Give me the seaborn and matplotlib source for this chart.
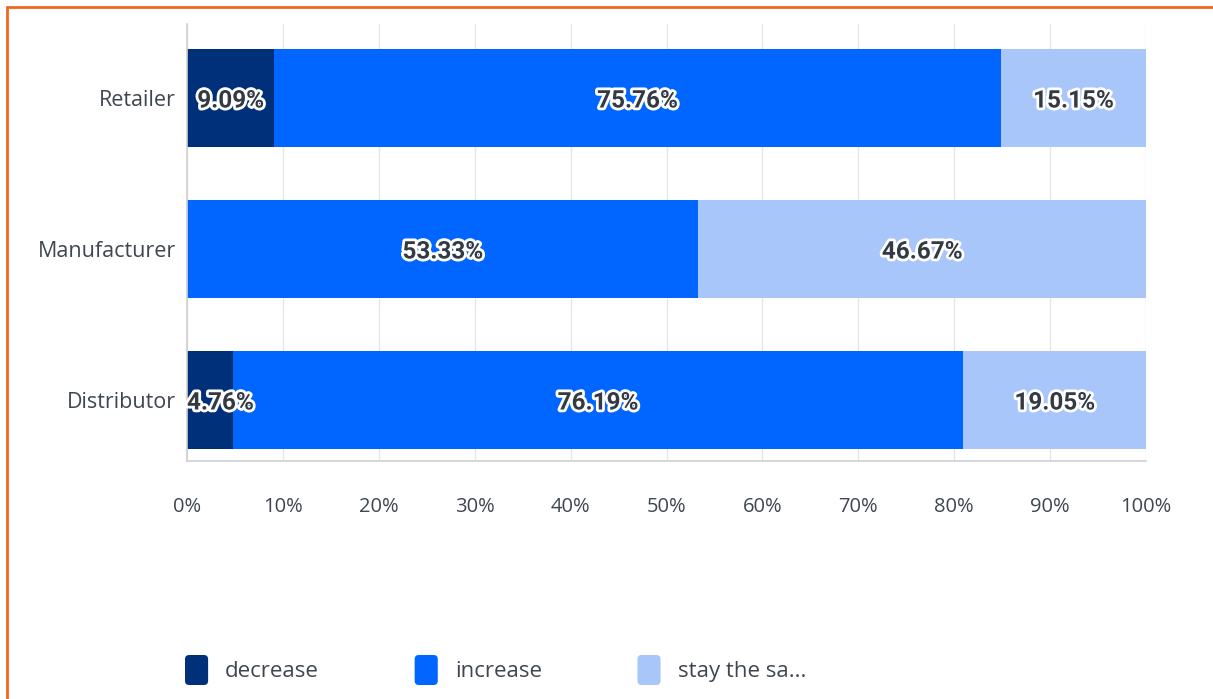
import matplotlib
matplotlib.use("Agg")
import matplotlib.pyplot as plt
import matplotlib.patheffects as pe
from matplotlib.lines import Line2D
from matplotlib.patches import Patch, FancyBboxPatch
from matplotlib.legend_handler import HandlerPatch
import seaborn as sns
import pandas as pd
import numpy as np

categories = ["Retailer", "Manufacturer", "Distributor"]
series_names = ["decrease", "increase", "stay the sa..."]
decrease = [9.09, 0.0, 4.76]
increase = [75.76, 53.33, 76.19]
stay_same = [15.15, 46.67, 19.05]
tick_values = [0, 10, 20, 30, 40, 50, 60, 70, 80, 90, 100]
tick_labels = [f"{v}%" for v in tick_values]

colors = ["#00307a", "#0066ff", "#a8c6fa"]
text_color = "#3f4650"
label_color = "#333a44"

sns.set_theme(style="white")
plt.rcParams["font.family"] = ["Open Sans", "DejaVu Sans"]

fig = plt.figure(figsize=(12.13, 6.99), dpi=100)
ax = fig.add_axes([187 / 1213, 1 - 461 / 699, (1146 - 187) / 1213, (461 - 24) / 699])

df = pd.DataFrame({"category": categories, "decrease": decrease,
                   "increase": increase, "stay": stay_same})
df["c1"] = df["decrease"]
df["c2"] = df["decrease"] + df["increase"]
df["c3"] = df["c2"] + df["stay"]

# draw cumulative layers from the largest to the smallest
for col, color in zip(["c3", "c2", "c1"], colors[::-1]):
    sns.barplot(data=df, y="category", x=col, orient="h", color=color,
                width=0.65, saturation=1, ax=ax, order=categories,
                linewidth=0)

ax.set_xlim(0, 100)
ax.set_ylim(2.404, -0.49)
ax.set_xticks(tick_values)
ax.set_xticklabels(tick_labels)
ax.set_xlabel("")
ax.set_ylabel("")
ax.tick_params(axis="x", colors=text_color, labelsize=14.5, length=0, pad=26)
ax.tick_params(axis="y", colors=text_color, labelsize=15.5, length=0, pad=8)
ax.grid(axis="x", color="#e6e6e6", linewidth=1)
ax.set_axisbelow(True)
for s in ["top", "right"]:
    ax.spines[s].set_visible(False)
for s in ["left", "bottom"]:
    ax.spines[s].set_color("#d0d0d0")
    ax.spines[s].set_linewidth(1.2)

stroke = [pe.withStroke(linewidth=4, foreground="white")]
fig.canvas.draw()
renderer = fig.canvas.get_renderer()
ax_left_px = ax.get_window_extent(renderer).x0
for i, cat in enumerate(categories):
    starts = [0, decrease[i], decrease[i] + increase[i]]
    vals = [decrease[i], increase[i], stay_same[i]]
    for st, v in zip(starts, vals):
        if v <= 0:
            continue
        t = ax.text(st + v / 2, i + 0.02, f"{v:.2f}%", ha="center", va="center",
                    fontsize=17.5, fontweight="bold", color=label_color,
                    family=["Roboto", "DejaVu Sans"], path_effects=stroke)
        bb = t.get_window_extent(renderer)
        if bb.x0 < ax_left_px:
            t.set_x(st)
            t.set_ha("left")


class RoundHandler(HandlerPatch):
    def create_artists(self, legend, orig_handle, xdescent, ydescent, width,
                       height, fontsize, trans):
        p = FancyBboxPatch((-xdescent, -ydescent), width, height,
                           boxstyle="round,pad=0,rounding_size=3",
                           facecolor=orig_handle.get_facecolor(),
                           edgecolor="none", transform=trans)
        return [p]


handles = [Patch(facecolor=c, edgecolor=c, label=n) for c, n in zip(colors, series_names)]
fig.legend(handles=handles, loc="center left", bbox_to_anchor=(185 / 1213, 1 - 670 / 699),
           ncol=3, frameon=False, fontsize=16, labelcolor=text_color,
           handlelength=1.04, handleheight=1.7, handletextpad=0.77, columnspacing=4.3,
           borderpad=0, borderaxespad=0,
           handler_map={Patch: RoundHandler()})

# orange frame lines
fig.add_artist(Line2D([7 / 1213, 1], [1 - 7 / 699, 1 - 7 / 699], color="#f26522",
                      linewidth=2, transform=fig.transFigure))
fig.add_artist(Line2D([7 / 1213, 7 / 1213], [0, 1 - 7 / 699], color="#f26522",
                      linewidth=2, transform=fig.transFigure))

fig.savefig("out.png", dpi=100)
